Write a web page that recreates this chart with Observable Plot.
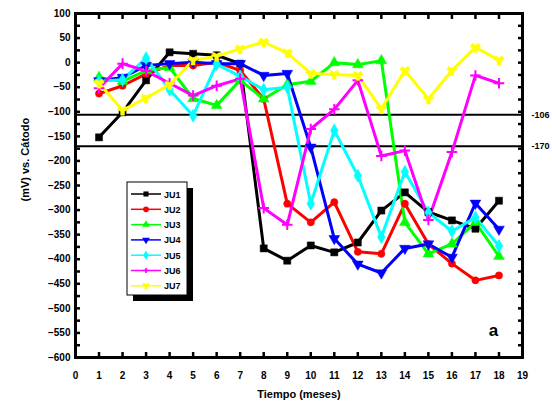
<!DOCTYPE html>
<html><head><meta charset="utf-8">
<script src="https://cdn.jsdelivr.net/npm/d3@7"></script>
<script src="https://cdn.jsdelivr.net/npm/@observablehq/plot@0.6"></script>
<style>
body{margin:0;background:#fff;}
#wrap{position:relative;width:552px;height:409px;}
#legend{position:absolute;left:0;top:0;pointer-events:none;}
</style></head><body><div id="wrap"></div>
<script>
const months = [1,2,3,4,5,6,7,8,9,10,11,12,13,14,15,16,17,18];
const seriesNames = ["JU1","JU2","JU3","JU4","JU5","JU6","JU7"];
const seriesColors = ["#000000","#ff0000","#00ff00","#0000ff","#00ffff","#ff00ff","#ffff00"];
const seriesSymbols = ["square","circle","triangle","triangle","diamond","plus","wye"];
const JU1 = [-152,-101,-36,21,18,15,-2,-378,-403,-372,-386,-366,-301,-264,-304,-321,-338,-281];
const JU2 = [-63,-47,-23,-6,-6,1,-16,-74,-287,-325,-284,-385,-389,-287,-369,-409,-443,-433];
const JU3 = [-30,-38,-16,-10,-73,-87,-36,-74,-45,-38,0,-4,4,-325,-389,-369,-325,-394];
const JU4 = [-37,-30,-6,-2,1,-2,-2,-26,-22,-172,-358,-410,-428,-378,-369,-396,-286,-339];
const JU5 = [-38,-35,9,-55,-108,-3,-28,-55,-50,-287,-138,-230,-355,-222,-305,-343,-315,-373];
const JU6 = [-52,-2,-17,-42,-67,-47,-33,-296,-330,-135,-95,-36,-190,-179,-320,-182,-26,-42];
const JU7 = [-42,-97,-72,-45,5,13,28,42,20,-22,-24,-26,-94,-16,-74,-16,31,5];
const thresholds = [-106,-170];
const thresholdLabels = ["-106","-170"];
const xTicks = [0,1,2,3,4,5,6,7,8,9,10,11,12,13,14,15,16,17,18,19];
const yLabelTicks = [100,50,0,-50,-100,-150,-200,-250,-300,-350,-400,-450,-500,-550,-600];
const yMinorTicks = [100,75,50,25,0,-25,-50,-75,-100,-125,-150,-175,-200,-225,-250,-275,-300,-325,-350,-375,-400,-425,-450,-475,-500,-525,-550,-575,-600];
const xTitle = "Tiempo (meses)";
const yTitle = "(mV) vs. Cátodo";
const panelLabel = "a";

const allSeries = [JU1,JU2,JU3,JU4,JU5,JU6,JU7];
const rows = [];
allSeries.forEach((vals,i)=>vals.forEach((v,j)=>rows.push({t:months[j], v, s:seriesNames[i]})));
const thr = thresholds.map((v,i)=>({v, label:thresholdLabels[i]}));

const font = "Liberation Sans, Arial, sans-serif";
const dots = seriesNames.map((name,i)=>Plot.dot(rows.filter(d=>d.s===name),{
  x:"t", y:"v", symbol:()=>seriesSymbols[i],
  fill: seriesSymbols[i]==="plus" ? "none" : seriesColors[i],
  stroke: seriesColors[i], strokeWidth: seriesSymbols[i]==="plus" ? 2 : 0.5,
  r: seriesSymbols[i]==="plus" ? 3.5 : (seriesSymbols[i]==="circle" ? 3.6 : 4),
  rotate: i===3 ? 180 : 0
}));
const lines = seriesNames.map((name,i)=>Plot.line(rows.filter(d=>d.s===name),{
  x:"t", y:"v", stroke: seriesColors[i], strokeWidth:3, strokeLinejoin:"round"
}));

const chart = Plot.plot({
  width:552, height:409,
  marginLeft:75, marginRight:30, marginTop:13, marginBottom:52,
  style:{fontFamily:font, fontWeight:"bold", fontSize:"10px", background:"#fff"},
  x:{domain:[0,19]},
  y:{domain:[-600,100]},
  marks:[
    Plot.ruleY(thr,{y:"v", stroke:"black", strokeWidth:2}),
    Plot.text(thr,{y:"v", frameAnchor:"right", text:"label", textAnchor:"start", dx:9, fontSize:9, fontWeight:"bold"}),
    ...lines,
    ...dots,
    Plot.frame({stroke:"black", strokeWidth:3}),
    Plot.axisY({anchor:"left", ticks:yMinorTicks, tickSize:4, dx:5, text:null, strokeWidth:2.5, label:null}),
    Plot.axisY({anchor:"right", ticks:yMinorTicks, tickSize:4, dx:-5, text:null, strokeWidth:2.5, label:null}),
    Plot.axisY({anchor:"left", ticks:yLabelTicks, tickSize:0, tickPadding:5, label:null, fontSize:10, fontWeight:"bold"}),
    Plot.axisX({anchor:"bottom", ticks:xTicks, tickSize:4, dy:-5, text:null, strokeWidth:2.5, label:null}),
    Plot.axisX({anchor:"top", ticks:xTicks, tickSize:4, dy:5, text:null, strokeWidth:2.5, label:null}),
    Plot.axisX({anchor:"bottom", ticks:xTicks, tickSize:0, tickPadding:14, label:null, fontSize:10, fontWeight:"bold"}),
    Plot.text([xTitle],{frameAnchor:"bottom", dy:40, fontSize:11, fontWeight:"bold"}),
    Plot.text([yTitle],{frameAnchor:"left", rotate:-90, dx:-50, dy:16, fontSize:11, fontWeight:"bold"}),
    Plot.text([panelLabel],{frameAnchor:"bottom-right", dx:-29, dy:-27, textAnchor:"middle", lineAnchor:"middle", fontSize:17, fontWeight:"bold"})
  ]
});
const wrap = document.getElementById("wrap");
wrap.appendChild(chart);

// legend overlay
const lg = d3.select(wrap).append("svg").attr("id","legend").attr("width",552).attr("height",409);
const bx=127, by=182, bw=60, bh=113;
lg.append("rect").attr("x",bx+6).attr("y",by+6).attr("width",bw).attr("height",bh).attr("fill","black");
lg.append("rect").attr("x",bx).attr("y",by).attr("width",bw).attr("height",bh).attr("fill","white").attr("stroke","black").attr("stroke-width",1);
seriesNames.forEach((name,i)=>{
  const yy = by+12+i*15.3;
  lg.append("line").attr("x1",bx+4).attr("x2",bx+34).attr("y1",yy).attr("y2",yy).attr("stroke",seriesColors[i]).attr("stroke-width",1.5);
  const sym = {square:d3.symbolSquare,circle:d3.symbolCircle,triangle:d3.symbolTriangle,diamond:d3.symbolDiamond,plus:d3.symbolCross,wye:d3.symbolWye}[seriesSymbols[i]];
  lg.append("path").attr("d",d3.symbol(sym, seriesSymbols[i]==="plus"?14:26)())
    .attr("transform",`translate(${bx+19},${yy}) rotate(${i===3?180:0})`)
    .attr("fill",seriesColors[i]);
  lg.append("text").attr("x",bx+37).attr("y",yy+3.5).text(name)
    .attr("font-family",font).attr("font-weight","bold").attr("font-size",9);
});
</script></body></html>
